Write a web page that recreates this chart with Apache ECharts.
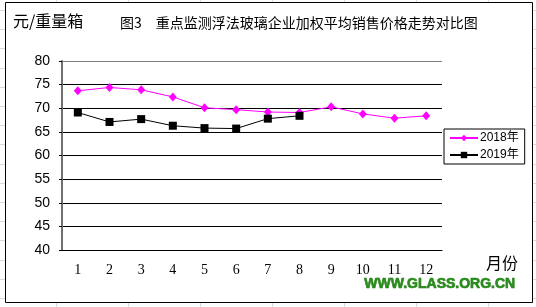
<!DOCTYPE html>
<html>
<head>
<meta charset="utf-8">
<script src="https://cdn.jsdelivr.net/npm/echarts@6/dist/echarts.min.js"></script>
<style>
html,body{margin:0;padding:0;background:#fff;}
#c{width:536px;height:307px;}
</style>
</head>
<body>
<div id="c"></div>
<script>
var months = ['1','2','3','4','5','6','7','8','9','10','11','12'];
var series2018 = [73.7, 74.4, 73.9, 72.4, 70.1, 69.7, 69.2, 69.1, 70.3, 68.8, 67.9, 68.4];
var series2019 = [69.1, 67.1, 67.7, 66.3, 65.8, 65.7, 67.8, 68.4];
var seriesNames = ['2018年', '2019年'];
var titleText = '图3　重点监测浮法玻璃企业加权平均销售价格走势对比图';
var yUnit = '元/重量箱';
var xUnit = '月份';
var watermark = 'WWW.GLASS.ORG.CN';

var chart = echarts.init(document.getElementById('c'), null, {renderer:'canvas'});

// spreadsheet background grid (decoration)
var bg = [];
var sheetColor = '#d4dbe8';
[56,128,200,272,344,416,488].forEach(function(x){
  bg.push({type:'line', z:0, shape:{x1:x+0.5,y1:0,x2:x+0.5,y2:307}, style:{stroke:sheetColor,lineWidth:1}, silent:true});
});
for (var i=0;i<16;i++){
  var y = Math.round(10 + i*19.2)+0.5;
  bg.push({type:'line', z:0, shape:{x1:0,y1:y,x2:536,y2:y}, style:{stroke:sheetColor,lineWidth:1}, silent:true});
}
bg.push({type:'rect', z:0, shape:{x:5.5,y:2.5,width:527,height:300}, style:{fill:'#fff',stroke:'#000',lineWidth:1}, silent:true});
bg.push({type:'text', z:10, left:13, top:13, style:{text:yUnit, font:'16px "Noto Sans CJK SC"', fill:'#000'}});
bg.push({type:'text', z:10, left:486, top:255, style:{text:xUnit, font:'16px "Noto Sans CJK SC"', fill:'#000'}});
bg.push({type:'text', z:10, left:364, top:277, style:{text:watermark, font:'bold 14px "Liberation Sans"', fill:'#2b8a1e', stroke:'#2b8a1e', lineWidth:0.7}});

chart.setOption({
  animation:false,
  backgroundColor:'transparent',
  title:{
    text:titleText, left:120, top:16, padding:0,
    textStyle:{fontSize:14, fontWeight:'normal', color:'#000', fontFamily:'"Noto Sans CJK SC"'}
  },
  graphic:bg,
  legend:{
    orient:'vertical', left:444, top:129,
    padding:[3,6,3,5], itemGap:5, itemWidth:28, itemHeight:8,
    backgroundColor:'#fff', borderColor:'#000', borderWidth:1,
    textStyle:{fontSize:12, lineHeight:12, color:'#000', fontFamily:'"Liberation Sans","Noto Sans CJK SC"', padding:[0,0,0,-3]},
    data:seriesNames
  },
  grid:{
    left:62, right:94, top:61, bottom:57,
    show:true, backgroundColor:'#c0c0c0', borderColor:'#808080', borderWidth:1
  },
  xAxis:{
    type:'category', data:months, boundaryGap:true,
    axisLine:{lineStyle:{color:'#000', width:1}},
    axisTick:{inside:true, length:5, lineStyle:{color:'#000'}},
    axisLabel:{margin:13, fontSize:14, color:'#000', fontFamily:'"Liberation Serif"'},
    splitLine:{show:false}
  },
  yAxis:{
    type:'value', min:40, max:80, interval:5,
    axisLine:{show:true, lineStyle:{color:'#707070', width:2}},
    axisTick:{show:true, length:3, lineStyle:{color:'#000'}},
    axisLabel:{margin:12, fontSize:14, color:'#000', fontFamily:'"Liberation Sans"'},
    splitLine:{show:true, lineStyle:{color:['#c0c0c0','#000','#000','#000','#000','#000','#000','#000','#808080'], width:1}}
  },
  series:[
    {name:seriesNames[0], type:'line', data:series2018, symbol:'diamond', symbolSize:[8,9],
     lineStyle:{color:'#ff00ff', width:1}, itemStyle:{color:'#ff00ff'}, showAllSymbol:true},
    {name:seriesNames[1], type:'line', data:series2019, symbol:'rect', symbolSize:8,
     lineStyle:{color:'#000', width:1}, itemStyle:{color:'#000'}, showAllSymbol:true}
  ]
});
</script>
</body>
</html>
